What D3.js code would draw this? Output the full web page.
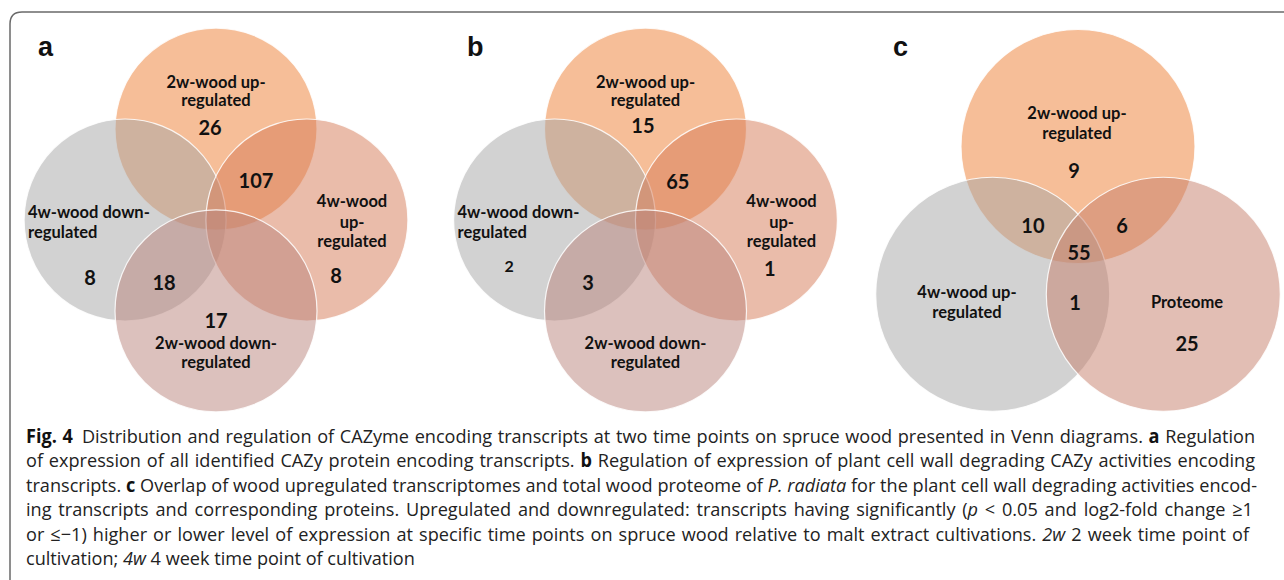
<!DOCTYPE html>
<html>
<head>
<meta charset="utf-8">
<title>Fig. 4 Venn diagrams</title>
<script src="https://cdnjs.cloudflare.com/ajax/libs/d3/7.8.5/d3.min.js"></script>
<style>
  html, body { margin: 0; padding: 0; background: #fff; }
  svg { display: block; }
  .venn-text { font-family: Lato, "Open Sans", sans-serif; font-weight: 700; fill: #111; }
  .caption { font-family: "Open Sans", "Noto Sans", sans-serif; font-size: 19px; fill: #222; }
</style>
</head>
<body>
<svg id="fig"></svg>
<script>
// ---- data ----
// panels a and b: four sets
var setNames4 = ["2w-wood up-regulated", "4w-wood down-regulated", "4w-wood up-regulated", "2w-wood down-regulated"];
// regions: 2w-up only, 4w-down only, 4w-up only, 2w-down only, 2w-up & 4w-up, 4w-down & 2w-down
var regions4 = ["2w-up", "4w-down", "4w-up", "2w-down", "2w-up+4w-up", "4w-down+2w-down"];
var countsA = [26, 8, 8, 17, 107, 18];
var countsB = [15, 2, 1, null, 65, 3];

// panel c: three sets
var setNames3 = ["2w-wood up-regulated", "4w-wood up-regulated", "Proteome"];
var regions3 = ["2w-up", "4w-up", "Proteome", "2w-up+4w-up", "2w-up+Proteome", "4w-up+Proteome", "all"];
var countsC = [9, null, 25, 10, 6, 1, 55];

var panelLetters = ["a", "b", "c"];

var colors4 = ["#ED7D31", "#A5A5A5", "#D57955", "#B9837B"];
var colors3 = ["#ED7D31", "#A5A5A5", "#C57D69"];

// ---- layout (unit coords, radius = 1) ----
var circles4 = [[0, -0.9], [-0.9, 0], [0.9, 0], [0, 0.9]];
var circles3 = [[0, -0.842], [-0.729, 0.421], [0.729, 0.421]];

// set-label anchors: [u, v, anchor, text] per line
var labelsA = [
  [[0, -1.366, "middle", "2w-wood up-"], [0, -1.188, "middle", "regulated"]],
  [[-1.861, -0.079, "start", "4w-wood down-"], [-1.861, 0.119, "start", "regulated"]],
  [[1.347, -0.188, "middle", "4w-wood"], [1.347, 0.02, "middle", "up-"], [1.347, 0.208, "middle", "regulated"]],
  [[0, 1.218, "middle", "2w-wood down-"], [0, 1.406, "middle", "regulated"]]
];
var countPosA = [[-0.059, -0.921], [-1.248, 0.564], [1.188, 0.545], [0, 0.99], [0.396, -0.396], [-0.515, 0.614]];
var countPosB = [[-0.025, -0.94], [-1.35, 0.455], [1.23, 0.475], [0, 0.99], [0.32, -0.386], [-0.57, 0.614]];
var labelsC = [
  [[-0.009, -1.128, "middle", "2w-wood up-"], [-0.009, -0.957, "middle", "regulated"]],
  [[-0.949, 0.402, "middle", "4w-wood up-"], [-0.949, 0.573, "middle", "regulated"]],
  [[0.932, 0.487, "middle", "Proteome"]]
];
var countPosC = [[-0.034, -0.641], [-0.9, 0.8], [0.932, 0.838], [-0.385, -0.171], [0.376, -0.171], [-0.026, 0.487], [0.009, 0.06]];

var panels = [
  { letter: panelLetters[0], ox: 216, oy: 220, r: 101, circles: circles4, colors: colors4, labels: labelsA, counts: countsA, countPos: countPosA, lx: 38 },
  { letter: panelLetters[1], ox: 645.5, oy: 220, r: 101, circles: circles4, colors: colors4, labels: labelsA, counts: countsB, countPos: countPosB, lx: 467 },
  { letter: panelLetters[2], ox: 1078, oy: 245, r: 117, circles: circles3, colors: colors3, labels: labelsC, counts: countsC, countPos: countPosC, lx: 893 }
];

var width = 1284, height = 580;
var svg = d3.select("#fig").attr("width", width).attr("height", height);

// frame (rounded corner top-left, open to the right and bottom)
svg.append("path")
  .attr("d", "M10," + (height + 5) + " L10,24 Q10,12 22,12 L" + (width + 5) + ",12")
  .attr("fill", "none")
  .attr("stroke", "#6a6a6a")
  .attr("stroke-width", 1.5);

panels.forEach(function (p) {
  var x = d3.scaleLinear().domain([-1, 1]).range([p.ox - p.r, p.ox + p.r]);
  var y = d3.scaleLinear().domain([-1, 1]).range([p.oy - p.r, p.oy + p.r]);
  var g = svg.append("g");

  g.selectAll("circle")
    .data(p.circles)
    .enter().append("circle")
    .attr("cx", function (d) { return x(d[0]); })
    .attr("cy", function (d) { return y(d[1]); })
    .attr("r", p.r)
    .attr("fill", function (d, i) { return p.colors[i]; })
    .attr("fill-opacity", 0.5)
    .attr("stroke", "#fff")
    .attr("stroke-opacity", 0.85)
    .attr("stroke-width", 1.2);

  // set names
  p.labels.forEach(function (lines) {
    g.selectAll(null)
      .data(lines)
      .enter().append("text")
      .attr("class", "venn-text")
      .attr("x", function (d) { return x(d[0]); })
      .attr("y", function (d) { return y(d[1]); })
      .attr("text-anchor", function (d) { return d[2]; })
      .attr("dominant-baseline", "central")
      .style("font-size", "16.5px")
      .text(function (d) { return d[3]; });
  });

  // region counts
  g.selectAll(null)
    .data(p.counts.map(function (c, i) { return { c: c, pos: p.countPos[i] }; })
      .filter(function (d) { return d.c !== null; }))
    .enter().append("text")
    .attr("class", "venn-text")
    .attr("x", function (d) { return x(d.pos[0]); })
    .attr("y", function (d) { return y(d.pos[1]); })
    .attr("text-anchor", "middle")
    .attr("dominant-baseline", "central")
    .style("font-size", function (d) { return (p.letter === "b" && d.c === 2) ? "16px" : "20px"; })
    .text(function (d) { return d.c; });

  // panel letter
  svg.append("text")
    .attr("x", p.lx)
    .attr("y", 56)
    .style("font-family", "'Liberation Sans', Arial, sans-serif")
    .style("font-weight", "700")
    .style("font-size", "27px")
    .attr("fill", "#111")
    .text(p.letter);
});

// ---- caption ----
var captionLines = [
  [["b", "Fig. 4"], ["n", "\u2002Distribution and regulation of CAZyme encoding transcripts at two time points on spruce wood presented in Venn diagrams. "], ["b", "a"], ["n", " Regulation"]],
  [["n", "of expression of all identified CAZy protein encoding transcripts. "], ["b", "b"], ["n", " Regulation of expression of plant cell wall degrading CAZy activities encoding"]],
  [["n", "transcripts. "], ["b", "c"], ["n", " Overlap of wood upregulated transcriptomes and total wood proteome of "], ["i", "P. radiata"], ["n", " for the plant cell wall degrading activities encod-"]],
  [["n", "ing transcripts and corresponding proteins. Upregulated and downregulated: transcripts having significantly ("], ["i", "p"], ["n", " < 0.05 and log2-fold change \u22651"]],
  [["n", "or \u2264\u22121) higher or lower level of expression at specific time points on spruce wood relative to malt extract cultivations. "], ["i", "2w"], ["n", " 2 week time point of"]],
  [["n", "cultivation; "], ["i", "4w"], ["n", " 4 week time point of cultivation"]]
];
var capLeft = 26;
var lineEnds = [1256, 1255, 1257, 1253, 1249, null];

// caption set in a horizontally condensed group to mimic the narrow journal face
var cap = svg.append("g").attr("class", "caption");
var texts = captionLines.map(function (parts, i) {
  var t = cap.append("text")
    .attr("y", 443 + i * 24.5)
    .attr("xml:space", "preserve");
  parts.forEach(function (pt) {
    var s = t.append("tspan").text(pt[1]);
    if (pt[0] === "b") s.style("font-weight", "700").attr("fill", "#111");
    if (pt[0] === "i") s.style("font-style", "italic");
  });
  return t;
});

// condensing factor: the one that fits the widest justified line without stretching
var sx = d3.min(texts.slice(0, 5), function (t, i) {
  return (lineEnds[i] - capLeft) / t.node().getComputedTextLength();
});
cap.attr("transform", "scale(" + sx + ",1)");
texts.forEach(function (t, i) {
  t.attr("x", capLeft / sx);
  if (lineEnds[i] !== null) {
    // justify with word spacing, fall back to textLength if not honoured
    var target = (lineEnds[i] - capLeft) / sx;
    var natural = t.node().getComputedTextLength();
    var spaces = countSpaces(captionLines[i]);
    t.style("word-spacing", ((target - natural) / spaces) + "px");
    var now = t.node().getComputedTextLength();
    if (Math.abs(now - target) > 3) {
      t.style("word-spacing", null)
        .attr("textLength", target).attr("lengthAdjust", "spacing");
    }
  }
});

function countSpaces(parts) {
  return parts.map(function (p) { return p[1]; }).join("").split(/[ \u2002]/).length - 1;
}
</script>
</body>
</html>
